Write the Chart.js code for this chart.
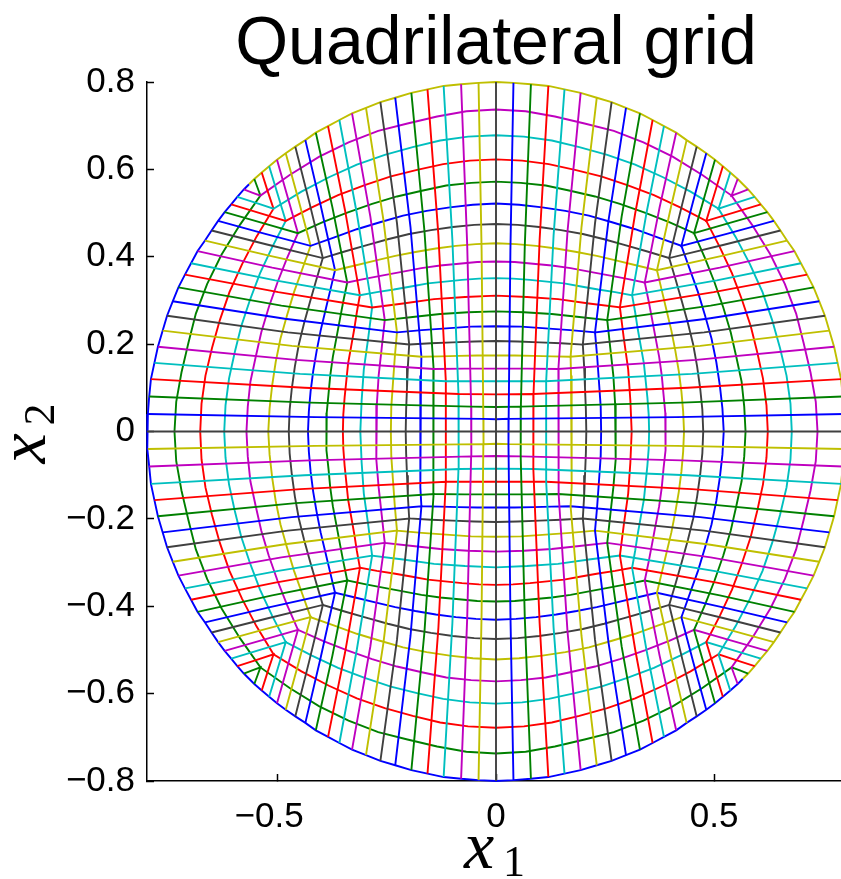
<!DOCTYPE html>
<html>
<head>
<meta charset="utf-8">
<title>Quadrilateral grid</title>
<script src="https://cdn.jsdelivr.net/npm/chart.js@4/dist/chart.umd.min.js"></script>
<style>
    html, body { margin: 0; padding: 0; background: #fff; overflow: hidden; }
    #wrap { width: 841px; height: 879px; overflow: hidden; }
    canvas { display: block; }
</style>
</head>
<body>
<div id="wrap"><canvas id="gridChart" width="860" height="879"></canvas></div>
<script>
// Tick positions and labels
const xTicks = [-0.5, 0, 0.5];
const xTickLabels = ['\u22120.5\u2002', '0', '0.5'];
const yTicks = [-0.8, -0.6, -0.4, -0.2, 0, 0.2, 0.4, 0.6, 0.8];
const yTickLabels = ['\u22120.8', '\u22120.6', '\u22120.4', '\u22120.2', '0', '0.2', '0.4', '0.6', '0.8'];

// colour of line index n is lineColors[n mod 7]
const lineColors = ['#404040', '#0000ff', '#008000', '#ff0000', '#00bfbf', '#bf00bf', '#bfbf00'];

// ringPoints[d-1]: ring d, from the x=0 axis to its corner on the diagonal
const ringPoints = [
    [[0, .028], [.029, .029]],
    [[0, .056], [.057, .057]],
    [[0, .085], [.086, .086]],
    [[0, .115], [.115, .115]],
    [[0, .144], [.072, .144], [.143, .143]],
    [[0, .174], [.043, .174], [.086, .173], [.128, .172], [.171, .171]],
    [[0, .207], [.05, .206], [.1, .204], [.149, .202], [.199, .199]],
    [[0, .241], [.057, .240], [.114, .236], [.170, .232], [.227, .227]],
    [[0, .275], [.064, .273], [.128, .269], [.191, .262], [.255, .255]],
    [[0, .311], [.071, .308], [.142, .303], [.213, .293], [.284, .284]],
    [[0, .351], [.039, .350], [.078, .347], [.117, .343], [.156, .339], [.195, .332], [.234, .325], [.273, .319], [.312, .312]],
    [[0, .389], [.043, .388], [.085, .384], [.128, .380], [.171, .374], [.213, .366], [.256, .358], [.298, .350], [.341, .341]],
    [[0, .431], [.046, .429], [.092, .425], [.138, .419], [.185, .411], [.231, .402], [.277, .391], [.323, .380], [.369, .369]],
    [[0, .475], [.05, .473], [.099, .468], [.149, .461], [.199, .452], [.248, .440], [.298, .426], [.347, .412], [.397, .397]],
    [[0, .522], [.053, .519], [.106, .513], [.159, .505], [.213, .494], [.266, .479], [.319, .463], [.372, .444], [.425, .425]],
    [[0, .572], [.057, .569], [.114, .563], [.170, .551], [.227, .538], [.284, .521], [.341, .501], [.397, .479], [.454, .454]],
    [[0, .623], [.06, .620], [.121, .612], [.181, .599], [.241, .584], [.301, .564], [.362, .541], [.422, .513], [.482, .482]],
    [[0, .678], [.064, .675], [.128, .666], [.191, .651], [.255, .633], [.319, .611], [.383, .582], [.446, .549], [.51, .51]],
    [[0, .737], [.068, .733], [.135, .721], [.203, .705], [.27, .688], [.338, .662], [.405, .629], [.473, .587], [.54, .54]],
    // ring 20 is the outer boundary
    [[0, .8], [.04, .798], [.08, .795], [.12, .791], [.157, .783], [.194, .775], [.231, .764],
     [.265, .754], [.298, .741], [.33, .728], [.359, .713], [.385, .699], [.413, .684],
     [.437, .667], [.46, .652], [.482, .637], [.502, .622], [.52, .607], [.537, .593],
     [.554, .578], [.566, .566]]
];

// spokePoints[i-1]: spoke i, from the boundary down to the same diagonal corner
const spokePoints = [
    [[.04, .798], [.033, .414], [.029, .029]],
    [[.08, .795], [.066, .426], [.057, .057]],
    [[.12, .791], [.1, .439], [.086, .086]],
    [[.157, .783], [.132, .449], [.115, .115]],
    [[.194, .775], [.164, .459], [.143, .143]],
    [[.231, .764], [.196, .468], [.171, .171]],
    [[.265, .754], [.227, .477], [.199, .199]],
    [[.298, .741], [.258, .484], [.227, .227]],
    [[.33, .728], [.288, .492], [.255, .255]],
    [[.359, .713], [.319, .499], [.284, .284]],
    [[.385, .699], [.346, .506], [.312, .312]],
    [[.413, .684], [.375, .513], [.341, .341]],
    [[.437, .667], [.402, .518], [.369, .369]],
    [[.46, .652], [.428, .525], [.397, .397]],
    [[.482, .637], [.453, .531], [.425, .425]],
    [[.502, .622], [.478, .538], [.454, .454]],
    [[.52, .607], [.501, .545], [.482, .482]],
    [[.537, .593], [.524, .552], [.51, .51]],
    [[.554, .578], [.547, .559], [.54, .54]]
];

const axisLines = [
    [[-.8, 0], [.8, 0]],
    [[0, -.8], [0, .8]]
];

const rev = a => a.slice().reverse();
const colorFor = n => lineColors[((n % 7) + 7) % 7];

function gridLine(points, color) {
    return {
        data: points.map(p => ({ x: p[0], y: p[1] })),
        borderColor: color,
        borderWidth: 1.9,
        showLine: true,
        pointRadius: 0,
        fill: false,
        tension: 0,
        clip: false
    };
}

function buildDatasets() {
    const sets = [];
    axisLines.forEach(l => sets.push(gridLine(l, lineColors[0])));

    for (let d = 1; d <= 20; d++) {
        const ring = ringPoints[d - 1];
        const spoke = d < 20 ? spokePoints[d - 1] : [];

        // left boundary, over the top, round the right, out through the bottom
        sets.push(gridLine([
            ...spoke.map(([x, y]) => [-y, x]),
            ...rev(ring).map(([x, y]) => [-x, y]),
            ...ring,
            ...rev(ring).map(([x, y]) => [y, x]),
            ...ring.map(([x, y]) => [y, -x]),
            ...rev(spoke).map(([x, y]) => [x, -y])
        ], colorFor(d)));

        // top boundary, round the left, under the bottom, out through the right
        sets.push(gridLine([
            ...spoke.map(([x, y]) => [-x, y]),
            ...rev(ring).map(([x, y]) => [-y, x]),
            ...ring.map(([x, y]) => [-y, -x]),
            ...rev(ring).map(([x, y]) => [-x, -y]),
            ...ring.map(([x, y]) => [x, -y]),
            ...rev(spoke).map(([x, y]) => [y, -x])
        ], colorFor(-d)));

        if (d < 20) {
            // L shaped lines in the upper right and lower left corners
            sets.push(gridLine([...spoke, ...rev(spoke).map(([x, y]) => [y, x])], colorFor(d)));
            sets.push(gridLine([
                ...spoke.map(([x, y]) => [-y, -x]),
                ...rev(spoke).map(([x, y]) => [-x, -y])
            ], colorFor(-d)));
        }
    }
    return sets;
}

// x_1 and x_2 need an italic letter and an upright subscript
const axisLabels = {
    id: 'axisLabels',
    afterDraw(chart) {
        const ctx = chart.ctx;
        const cx = chart.scales.x.getPixelForValue(0);
        const cy = chart.scales.y.getPixelForValue(0);
        ctx.save();
        ctx.fillStyle = '#000';
        ctx.textBaseline = 'alphabetic';
        ctx.textAlign = 'left';

        ctx.font = 'italic 68px "Liberation Serif"';
        ctx.fillText('x', cx - 32, 868);
        ctx.font = '44px "Liberation Serif"';
        ctx.fillText('1', cx + 7, 876);

        ctx.translate(45, cy + 32);
        ctx.rotate(-Math.PI / 2);
        ctx.font = 'italic 68px "Liberation Serif"';
        ctx.fillText('x', 0, 0);
        ctx.font = '44px "Liberation Serif"';
        ctx.fillText('2', 38, 9);
        ctx.restore();
    }
};

new Chart(document.getElementById('gridChart'), {
    type: 'scatter',
    data: { datasets: buildDatasets() },
    plugins: [axisLabels],
    options: {
        responsive: false,
        animation: false,
        layout: { padding: { top: 0, right: 15, bottom: 0, left: 0 } },
        plugins: {
            legend: { display: false },
            tooltip: { enabled: false },
            title: {
                display: true,
                text: 'Quadrilateral grid',
                fullSize: false,
                color: '#000',
                font: { family: '"Liberation Sans"', size: 68, weight: 'normal', lineHeight: 1 },
                padding: { top: 11, bottom: 3 }
            }
        },
        scales: {
            x: {
                type: 'linear',
                min: -0.8,
                max: 0.8,
                afterFit: s => { s.height = 98; },
                afterBuildTicks: s => { s.ticks = xTicks.map(v => ({ value: v })); },
                grid: { drawOnChartArea: false, tickLength: -7, tickColor: '#000', tickWidth: 1.5 },
                border: { color: '#000', width: 1.5 },
                ticks: {
                    color: '#000',
                    padding: 22,
                    maxRotation: 0,
                    autoSkip: false,
                    font: { family: '"Liberation Sans"', size: 35 },
                    callback: (v, i) => xTickLabels[i]
                }
            },
            y: {
                type: 'linear',
                min: -0.8,
                max: 0.8,
                afterFit: s => { s.width = 147; },
                afterBuildTicks: s => { s.ticks = yTicks.map(v => ({ value: v })); },
                grid: { drawOnChartArea: false, tickLength: -7, tickColor: '#000', tickWidth: 1.5 },
                border: { color: '#000', width: 1.5 },
                ticks: {
                    color: '#000',
                    padding: 19,
                    autoSkip: false,
                    font: { family: '"Liberation Sans"', size: 35 },
                    callback: (v, i) => yTickLabels[i]
                }
            }
        }
    }
});
</script>
</body>
</html>
